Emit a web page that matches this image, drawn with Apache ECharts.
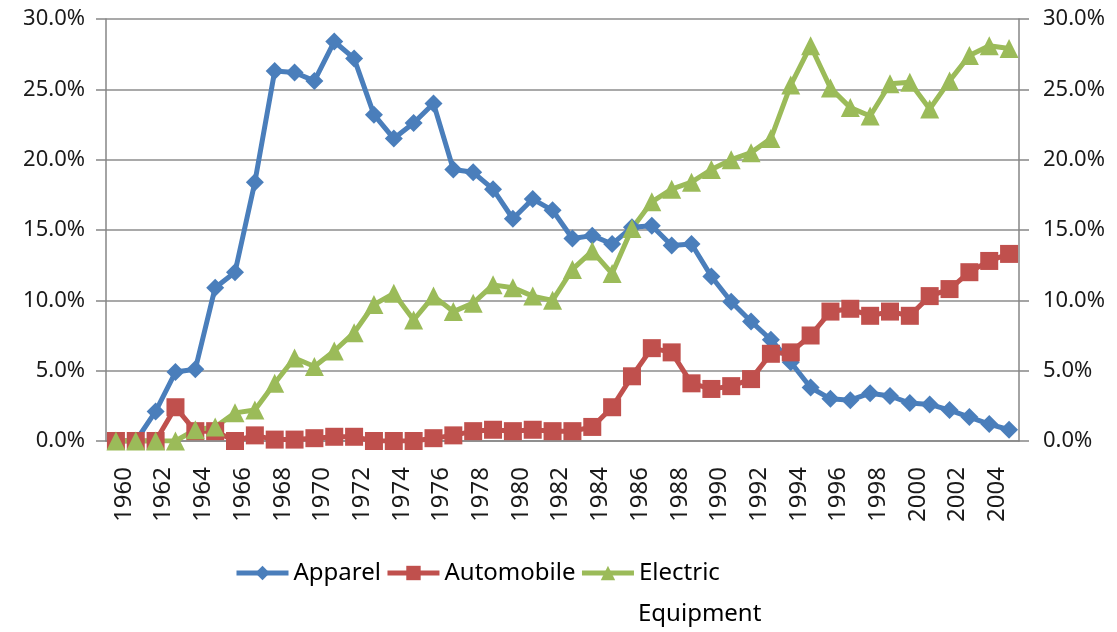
<!DOCTYPE html>
<html>
<head>
<meta charset="utf-8">
<script src="https://cdn.jsdelivr.net/npm/echarts@6/dist/echarts.min.js"></script>
<style>
  html, body { margin: 0; padding: 0; background: #fff; }
  #chart { width: 1117px; height: 632px; }
</style>
</head>
<body>
<div id="chart"></div>
<script>
// 年份
var years = [];
for (var y = 1960; y <= 2005; y++) { years.push(String(y)); }

// 各行业份额 (%)
var apparel = [0, 0, 2.1, 4.9, 5.1, 10.9, 12.0, 18.4, 26.3, 26.2,
  25.6, 28.4, 27.2, 23.2, 21.5, 22.6, 24.0, 19.3, 19.1, 17.9,
  15.8, 17.2, 16.4, 14.4, 14.6, 14.0, 15.2, 15.3, 13.9, 14.0,
  11.7, 9.9, 8.5, 7.2, 5.6, 3.8, 3.0, 2.9, 3.4, 3.2,
  2.7, 2.6, 2.2, 1.7, 1.2, 0.8];
var automobile = [0, 0, 0, 2.4, 0.7, 0.7, 0.0, 0.4, 0.1, 0.1,
  0.2, 0.3, 0.3, 0.0, 0.0, 0.0, 0.2, 0.4, 0.7, 0.8,
  0.7, 0.8, 0.7, 0.7, 1.0, 2.4, 4.6, 6.6, 6.3, 4.1,
  3.7, 3.9, 4.4, 6.2, 6.3, 7.5, 9.2, 9.4, 8.9, 9.2,
  8.9, 10.3, 10.8, 12.0, 12.8, 13.3];
var electric = [0, 0, 0, 0, 0.8, 1.0, 2.0, 2.2, 4.1, 5.9,
  5.3, 6.4, 7.7, 9.7, 10.5, 8.6, 10.3, 9.2, 9.8, 11.1,
  10.9, 10.3, 10.0, 12.2, 13.5, 11.9, 15.1, 17.0, 17.9, 18.4,
  19.3, 20.0, 20.5, 21.5, 25.3, 28.1, 25.1, 23.7, 23.1, 25.4,
  25.5, 23.6, 25.6, 27.4, 28.1, 27.9];

var chart = echarts.init(document.getElementById('chart'));

var font = 'Noto Sans';
var axisGray = '#868686';

function pct(v) { return v.toFixed(1) + '%'; }

function yAxisCfg(pos, margin) {
    return {
        type: 'value',
        position: pos,
        min: 0,
        max: 30,
        interval: 5,
        axisLine: { show: true, lineStyle: { color: axisGray, width: 1.5 } },
        axisTick: { show: true, inside: false, length: 10, lineStyle: { color: axisGray, width: 1.5 } },
        splitLine: { show: pos === 'left', lineStyle: { color: '#8c8c8c', width: 1.5 } },
        axisLabel: { formatter: pct, color: '#1a1a1a', fontSize: 22, fontFamily: font, margin: margin }
    };
}

function lineSeries(name, data, color, symbol, size, yIdx) {
    return {
        name: name,
        type: 'line',
        yAxisIndex: yIdx,
        data: data,
        symbol: symbol,
        symbolSize: size,
        showAllSymbol: true,
        lineStyle: { color: color, width: 5 },
        itemStyle: { color: color },
        animation: false
    };
}

var option = {
    backgroundColor: '#fff',
    grid: { left: 106, right: 98, top: 19, bottom: 191 },
    legend: {
        left: 229,
        top: 556,
        itemWidth: 52,
        itemHeight: 18,
        itemGap: 4,
        data: ['Apparel', 'Automobile', 'Electric'],
        lineStyle: { width: 5 },
        textStyle: { color: '#000', fontSize: 24, fontFamily: font }
    },
    // 图例第二行
    graphic: [{
        type: 'text',
        left: 638,
        top: 602,
        style: { text: 'Equipment', fill: '#000', fontSize: 24, fontFamily: font }
    }],
    xAxis: {
        type: 'category',
        data: years,
        boundaryGap: true,
        axisLine: { lineStyle: { color: axisGray, width: 1.5 } },
        axisTick: { interval: 0, length: 8, lineStyle: { color: axisGray, width: 1.5 } },
        axisLabel: {
            interval: 1, rotate: 90, color: '#1a1a1a', fontSize: 24, fontFamily: font,
            margin: 26, verticalAlign: 'top', lineHeight: 16
        }
    },
    yAxis: [yAxisCfg('left', 21), yAxisCfg('right', 24)],
    series: [
        lineSeries('Apparel', apparel, '#4a7ebb', 'diamond', 18, 0),
        lineSeries('Automobile', automobile, '#c0504d', 'rect', 18, 0),
        lineSeries('Electric', electric, '#9bbb59', 'triangle', 19, 1)
    ]
};

chart.setOption(option);
</script>
</body>
</html>
